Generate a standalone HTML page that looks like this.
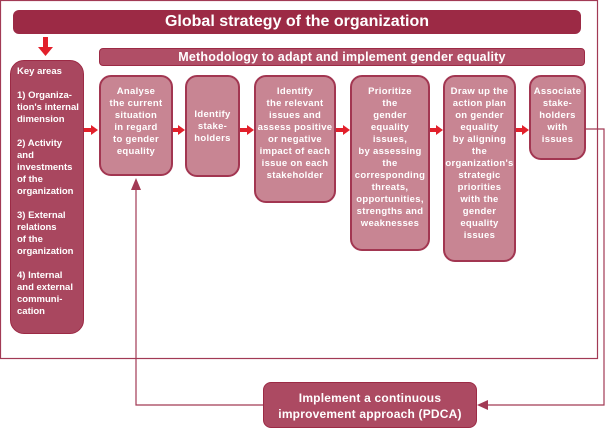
<!DOCTYPE html>
<html><head><style>
body{margin:0;width:608px;height:432px;background:#fff;position:relative;overflow:hidden;font-family:"Liberation Sans",sans-serif;font-weight:bold;color:#fff}
.a{position:absolute;box-sizing:border-box}
.bx{position:absolute;box-sizing:border-box;background:#c88593;border:2px solid #a23651;border-radius:12px;text-align:center;font-size:9.5px;line-height:12px;padding-top:9px;letter-spacing:0.3px;white-space:nowrap}
</style></head><body>
<svg class="a" style="left:0;top:0" width="608" height="432">
<rect x="0.5" y="0.5" width="597" height="358" fill="none" stroke="#a23a55" stroke-width="1.2"/>
<polyline points="585,129 604,129 604,405 486,405" fill="none" stroke="#a23a55" stroke-width="1.2"/>
<polygon points="477,405 488,400 488,410" fill="#a23a55"/>
<polyline points="263,405 136,405 136,186" fill="none" stroke="#a23a55" stroke-width="1.2"/>
<polygon points="136,178 131,190 141,190" fill="#a23a55"/>
<g fill="#e2202b">
<rect x="43" y="37" width="5" height="11"/><polygon points="38,47 53,47 45.5,56"/>
<rect x="84" y="128" width="8" height="4"/><polygon points="91,125 98,130 91,135"/>
<rect x="173" y="128" width="6" height="4"/><polygon points="178,125 185,130 178,135"/>
<rect x="240" y="128" width="8" height="4"/><polygon points="247,125 254,130 247,135"/>
<rect x="336" y="128" width="8" height="4"/><polygon points="343,125 350,130 343,135"/>
<rect x="430" y="128" width="7" height="4"/><polygon points="436,125 443,130 436,135"/>
<rect x="516" y="128" width="7" height="4"/><polygon points="522,125 529,130 522,135"/>
</g>
</svg>
<div class="a" style="left:13px;top:10px;width:568px;height:24px;background:#9c2a45;border-radius:6px;text-align:center;font-size:16px;line-height:24px">Global strategy of the organization</div>
<div class="a" style="left:99px;top:48px;width:486px;height:18px;background:#b04e66;border:1px solid #9c2a45;border-radius:4px;text-align:center;font-size:12.5px;line-height:16px;letter-spacing:0.2px">Methodology to adapt and implement gender equality</div>
<div class="a" style="left:10px;top:60px;width:74px;height:274px;background:#a9475f;border:1px solid #9c2a45;border-radius:14px;font-size:9.5px;line-height:12px;padding:5px 0 0 6px;white-space:nowrap">Key areas<br><br>1) Organiza-<br>tion's internal<br>dimension<br><br>2) Activity<br>and<br>investments<br>of the<br>organization<br><br>3) External<br>relations<br>of the<br>organization<br><br>4) Internal<br>and external<br>communi-<br>cation</div>
<div class="bx" style="left:99px;top:75px;width:74px;height:101px">Analyse<br>the current<br>situation<br>in regard<br>to gender<br>equality</div>
<div class="bx" style="left:185px;top:75px;width:55px;height:102px;padding-top:32px">Identify<br>stake-<br>holders</div>
<div class="bx" style="left:254px;top:75px;width:82px;height:128px">Identify<br>the relevant<br>issues and<br>assess positive<br>or negative<br>impact of each<br>issue on each<br>stakeholder</div>
<div class="bx" style="left:350px;top:75px;width:80px;height:176px">Prioritize<br>the<br>gender<br>equality<br>issues,<br>by assessing<br>the<br>corresponding<br>threats,<br>opportunities,<br>strengths and<br>weaknesses</div>
<div class="bx" style="left:443px;top:75px;width:73px;height:187px">Draw up the<br>action plan<br>on gender<br>equality<br>by aligning<br>the<br>organization's<br>strategic<br>priorities<br>with the<br>gender<br>equality<br>issues</div>
<div class="bx" style="left:529px;top:75px;width:57px;height:85px">Associate<br>stake-<br>holders<br>with<br>issues</div>
<div class="a" style="left:263px;top:382px;width:214px;height:46px;background:#ac4a62;border:1px solid #9c2a45;border-radius:8px;text-align:center;font-size:12px;line-height:16px;padding-top:7px;letter-spacing:0.2px">Implement a continuous<br>improvement approach (PDCA)</div>
</body></html>
